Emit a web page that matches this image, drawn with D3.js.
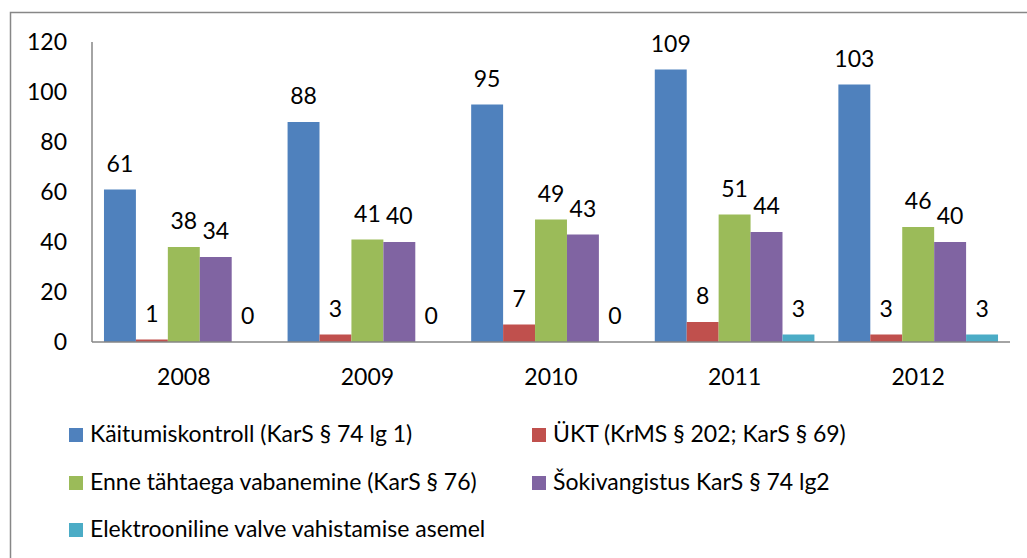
<!DOCTYPE html>
<html>
<head>
<meta charset="utf-8">
<script src="https://cdn.jsdelivr.net/npm/d3@7"></script>
<style>
  body { margin: 0; background: #fff; }
  svg text { font-family: Lato, "Open Sans", sans-serif; fill: #000; }
</style>
</head>
<body>
<div id="chart"></div>
<script>
const years = ["2008", "2009", "2010", "2011", "2012"];
const seriesNames = [
    "Käitumiskontroll (KarS § 74 lg 1)",
    "ÜKT (KrMS § 202; KarS § 69)",
    "Enne tähtaega vabanemine (KarS § 76)",
    "Šokivangistus KarS § 74 lg2",
    "Elektrooniline valve vahistamise asemel"
];
const kaitumiskontroll = [61, 88, 95, 109, 103];
const ukt = [1, 3, 7, 8, 3];
const enneTahtaega = [38, 41, 49, 51, 46];
const sokivangistus = [34, 40, 43, 44, 40];
const elektrooniline = [0, 0, 0, 3, 3];
const yTicks = [0, 20, 40, 60, 80, 100, 120];
const colors = ["#4F81BD", "#C0504D", "#9BBB59", "#8064A2", "#4BACC6"];

const seriesValues = [kaitumiskontroll, ukt, enneTahtaega, sokivangistus, elektrooniline];

const width = 1027, height = 558;
const plotLeft = 92, plotRight = 1010, plotTop = 42, plotBottom = 342;
const fontSize = 23;

const svg = d3.select("#chart")
              .append("svg")
              .attr("width", width)
              .attr("height", height);

// outer chart border (runs off the right and bottom of the picture)
svg.append("rect")
   .attr("x", 10.5).attr("y", 12.5)
   .attr("width", 1100).attr("height", 600)
   .attr("fill", "none")
   .attr("stroke", "#878787")
   .attr("stroke-width", 1.5);

const x = d3.scaleBand().domain(years).range([plotLeft, plotRight]);
const xs = d3.scaleBand()
             .domain(d3.range(seriesNames.length))
             .range([0, x.bandwidth()])
             .paddingOuter(0.375);
const y = d3.scaleLinear().domain([0, 120]).range([plotBottom, plotTop]);

// y labels (no ticks in original)
svg.append("g")
   .selectAll("text")
   .data(yTicks)
   .join("text")
   .attr("x", 67)
   .attr("y", d => y(d) + 8)
   .attr("text-anchor", "end")
   .attr("font-size", fontSize)
   .text(d => d);

// bars
const groups = svg.append("g")
                  .selectAll("g")
                  .data(seriesValues)
                  .join("g")
                  .attr("fill", (d, i) => colors[i]);

groups.selectAll("rect")
      .data((vals, si) => vals.map((v, yi) => ({ v, si, year: years[yi] })))
      .join("rect")
      .attr("x", d => x(d.year) + xs(d.si))
      .attr("width", xs.bandwidth())
      .attr("y", d => y(d.v))
      .attr("height", d => y(0) - y(d.v));

// value labels
groups.selectAll("text")
      .data((vals, si) => vals.map((v, yi) => ({ v, si, year: years[yi] })))
      .join("text")
      .attr("x", d => x(d.year) + xs(d.si) + xs.bandwidth() / 2)
      .attr("y", d => y(d.v) - 18)
      .attr("text-anchor", "middle")
      .attr("font-size", fontSize)
      .attr("fill", "#000")
      .text(d => d.v);

// axes lines
svg.append("line")
   .attr("x1", plotLeft).attr("x2", plotLeft)
   .attr("y1", plotTop).attr("y2", plotBottom)
   .attr("stroke", "#868686").attr("stroke-width", 1.5);
svg.append("line")
   .attr("x1", plotLeft).attr("x2", plotRight)
   .attr("y1", plotBottom).attr("y2", plotBottom)
   .attr("stroke", "#868686").attr("stroke-width", 1.5);

// x labels
svg.append("g")
   .selectAll("text")
   .data(years)
   .join("text")
   .attr("x", d => x(d) + x.bandwidth() / 2)
   .attr("y", 385)
   .attr("text-anchor", "middle")
   .attr("font-size", fontSize)
   .text(d => d);

// legend, two columns
const legendCols = [69, 532];
const legendRows = [442, 490, 537];
const legend = svg.append("g")
                  .selectAll("g")
                  .data(seriesNames)
                  .join("g")
                  .attr("transform", (d, i) => `translate(${legendCols[i % 2]},${legendRows[Math.floor(i / 2)]})`);

legend.append("rect")
      .attr("x", 0).attr("y", -14)
      .attr("width", 14).attr("height", 14)
      .attr("fill", (d, i) => colors[i]);

legend.append("text")
      .attr("x", 21)
      .attr("y", 0)
      .attr("font-size", fontSize)
      .text(d => d);
</script>
</body>
</html>
